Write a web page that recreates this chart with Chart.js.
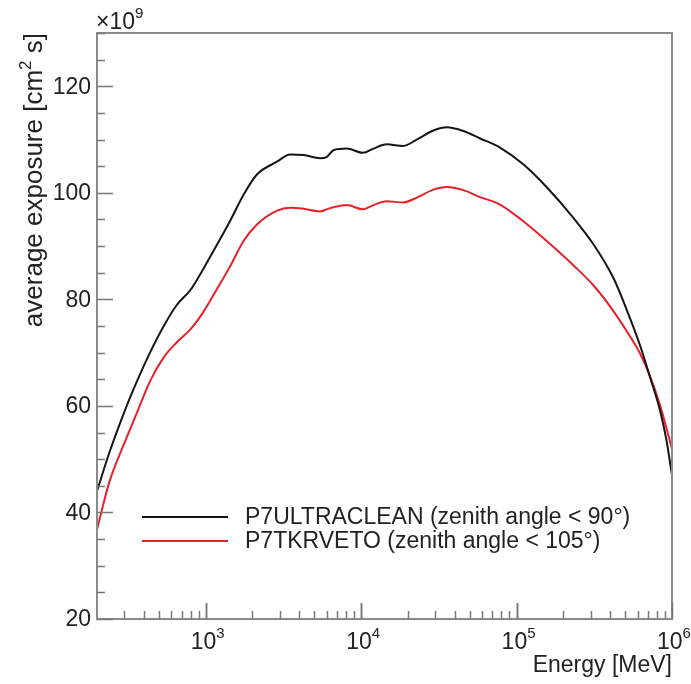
<!DOCTYPE html>
<html>
<head>
<meta charset="utf-8">
<script src="https://cdn.jsdelivr.net/npm/chart.js@4/dist/chart.umd.min.js"></script>
<style>
  html, body { margin: 0; padding: 0; background: #fff; }
  canvas { display: block; }
</style>
</head>
<body>
<canvas id="exposure" width="691" height="684"></canvas>
<script>
// ----- Data -----
var energies = [200, 240, 300, 360, 440, 540, 650, 800, 970, 1180, 1430, 1750, 2130, 2860, 3500,
  4260, 5450, 6000, 6640, 8100, 10300, 12000, 14600, 18700, 22800, 29200, 35600, 45500, 58300,
  78300, 110000, 157000, 232000, 313000, 420000, 512000, 624000, 724000, 840000, 918000, 1000000];

// P7ULTRACLEAN, units of 1e9 cm^2 s
var ultraclean = [44.0, 51.2, 58.9, 64.5, 70.1, 75.1, 78.9, 81.8, 85.8, 90.2, 94.6, 99.6, 103.4, 105.8, 107.2,
  107.1, 106.5, 106.7, 108.0, 108.3, 107.5, 108.3, 109.1, 108.8, 110.0, 111.7, 112.3, 111.6, 110.2,
  108.5, 105.4, 101.0, 95.3, 90.3, 84.0, 78.0, 71.3, 65.3, 59.0, 53.8, 47.0];

// P7TKRVETO
var tkrveto = [36.8, 45.7, 53.0, 58.6, 64.7, 69.2, 71.9, 74.4, 77.7, 81.9, 86.1, 90.9, 94.0, 96.6, 97.2,
  97.0, 96.5, 96.9, 97.3, 97.7, 96.9, 97.7, 98.4, 98.2, 99.1, 100.6, 101.1, 100.5, 99.2,
  97.8, 94.7, 90.9, 86.4, 82.6, 77.8, 74.0, 69.8, 65.5, 60.0, 56.0, 51.9];

var seriesNames = ['P7ULTRACLEAN (zenith angle < 90\u00B0)', 'P7TKRVETO (zenith angle < 105\u00B0)'];
var yTicks = [20, 40, 60, 80, 100, 120];
var xTicks = [1e3, 1e4, 1e5, 1e6];
var xTickExp = ['3', '4', '5', '6'];

function toPoints(xs, ys) {
  return xs.map(function(x, i){ return {x: x, y: ys[i]}; });
}

var FONT = "'Liberation Sans', Arial, sans-serif";
var TXT = '#222';
var AXIS = '#8a8a8a';

// ----- Frame, ticks, labels, legend (ROOT-like) -----
var rootStyle = {
  id: 'rootStyle',
  afterDraw: function(chart) {
    var c = chart.ctx, a = chart.chartArea;
    var xs = chart.scales.x, ys = chart.scales.y;
    c.save();

    // frame
    c.strokeStyle = AXIS;
    c.lineWidth = 2;
    c.strokeRect(a.left, a.top, a.right - a.left, a.bottom - a.top);

    // y ticks (every 5, major every 20)
    c.lineWidth = 1.5;
    c.strokeStyle = '#777';
    for (var v = 20; v <= 130; v += 5) {
      var py = Math.round(ys.getPixelForValue(v)) + 0.5;
      var len = (v % 20 === 0) ? 16 : 8;
      c.beginPath(); c.moveTo(a.left, py); c.lineTo(a.left + len, py); c.stroke();
    }
    // x ticks (log decades)
    for (var d = 100; d < 1e6; d *= 10) {
      for (var m = 1; m <= 10; m++) {
        var val = m * d;
        if (val <= 200 || val > 1e6) continue;
        var px = Math.round(xs.getPixelForValue(val)) + 0.5;
        var l2 = (m === 1 || m === 10) ? 16 : 8;
        c.beginPath(); c.moveTo(px, a.bottom); c.lineTo(px, a.bottom - l2); c.stroke();
      }
    }

    // y tick labels
    c.fillStyle = TXT;
    c.font = '23px ' + FONT;
    c.textAlign = 'right';
    c.textBaseline = 'middle';
    yTicks.forEach(function(t){
      c.fillText(String(t), 91, ys.getPixelForValue(t) + 1);
    });

    // x tick labels: 10^n
    c.textBaseline = 'alphabetic';
    xTicks.forEach(function(t, i){
      var px = xs.getPixelForValue(t);
      c.font = '23px ' + FONT;
      var w1 = c.measureText('10').width;
      c.font = '15px ' + FONT;
      var w2 = c.measureText(xTickExp[i]).width;
      var x0 = px - (w1 + w2) / 2 + 2;
      c.textAlign = 'left';
      c.font = '23px ' + FONT;
      c.fillText('10', x0, 649);
      c.font = '15px ' + FONT;
      c.fillText(xTickExp[i], x0 + w1, 638);
    });

    // x title
    c.font = '23px ' + FONT;
    c.textAlign = 'right';
    c.fillText('Energy [MeV]', a.right, 672);

    // multiplier
    c.textAlign = 'left';
    c.fillText('\u00D710', 96, 29);
    var wm = c.measureText('\u00D710').width;
    c.font = '15px ' + FONT;
    c.fillText('9', 96 + wm, 18);

    // y title, rotated, right-aligned to frame top
    c.save();
    c.translate(42, a.top);
    c.rotate(-Math.PI / 2);
    c.font = '26px ' + FONT;
    var p1 = 'average exposure [cm', p2 = '2', p3 = ' s]';
    var w1 = c.measureText(p1).width, w3 = c.measureText(p3).width;
    c.font = '17px ' + FONT;
    var w2b = c.measureText(p2).width;
    var start = -(w1 + w2b + w3);
    c.textAlign = 'left';
    c.font = '26px ' + FONT;
    c.fillText(p1, start, 0);
    c.font = '17px ' + FONT;
    c.fillText(p2, start + w1, -11);
    c.font = '26px ' + FONT;
    c.fillText(p3, start + w1 + w2b, 0);
    c.restore();

    // legend
    var colors = [chart.data.datasets[0].borderColor, chart.data.datasets[1].borderColor];
    var rows = [517, 541];
    c.font = '23px ' + FONT;
    c.textAlign = 'left';
    c.textBaseline = 'middle';
    rows.forEach(function(ry, i){
      c.strokeStyle = colors[i];
      c.lineWidth = 2;
      c.beginPath(); c.moveTo(142, ry); c.lineTo(228, ry); c.stroke();
      c.fillStyle = TXT;
      c.fillText(seriesNames[i], 245, ry + 1);
    });

    c.restore();
  }
};

var chart = new Chart(document.getElementById('exposure').getContext('2d'), {
  type: 'line',
  data: {
    datasets: [
      { label: seriesNames[0], data: toPoints(energies, ultraclean), borderColor: '#151515',
        borderWidth: 2, pointRadius: 0, fill: false, cubicInterpolationMode: 'monotone' },
      { label: seriesNames[1], data: toPoints(energies, tkrveto), borderColor: '#e8202a',
        borderWidth: 2, pointRadius: 0, fill: false, cubicInterpolationMode: 'monotone' }
    ]
  },
  options: {
    responsive: false,
    animation: false,
    layout: { padding: { left: 97, right: 19, top: 33, bottom: 65 } },
    plugins: { legend: { display: false }, tooltip: { enabled: false } },
    scales: {
      x: { type: 'logarithmic', min: 200, max: 1e6, display: false },
      y: { type: 'linear', min: 20, max: 130, display: false }
    }
  },
  plugins: [rootStyle]
});
</script>
</body>
</html>
